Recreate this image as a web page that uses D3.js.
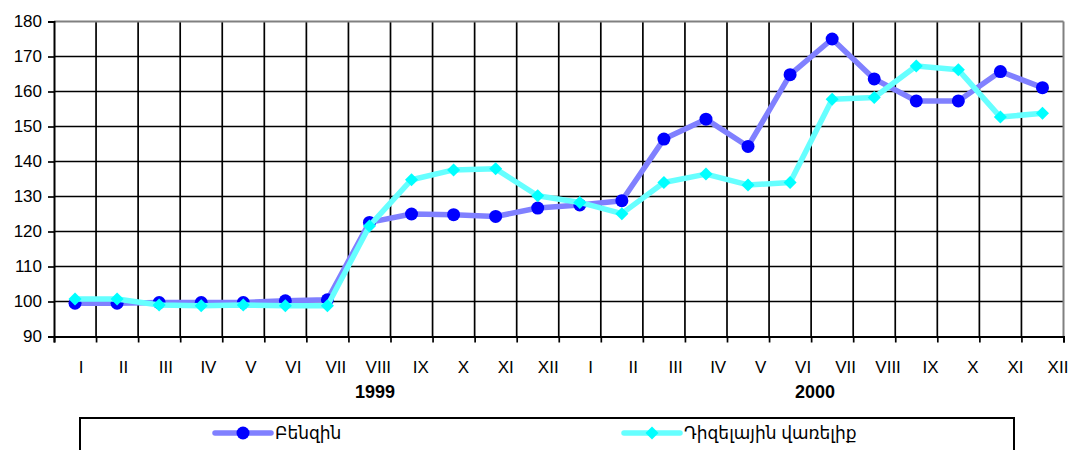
<!DOCTYPE html>
<html>
<head>
<meta charset="utf-8">
<script src="https://cdn.jsdelivr.net/npm/d3@7"></script>
<style>
  html, body { margin: 0; padding: 0; background: #fff; }
  svg { display: block; }
  text { font-family: "Liberation Sans", Arial, "DejaVu Sans", sans-serif; fill: #000; }
</style>
</head>
<body>
<svg id="chart" width="1074" height="450"></svg>
<script>
// ---- data ----
const months = ["I","II","III","IV","V","VI","VII","VIII","IX","X","XI","XII",
                "I","II","III","IV","V","VI","VII","VIII","IX","X","XI","XII"];
const years = ["1999", "2000"];
const seriesNames = ["Բենզին", "Դիզելային վառելիք"];
const benzin = [99.5, 99.5, 99.7, 99.7, 99.7, 100.2, 100.5, 122.6, 125.0, 124.8, 124.3, 126.7,
                127.6, 128.8, 146.4, 152.1, 144.3, 164.8, 175.0, 163.6, 157.3, 157.3, 165.7, 161.1];
const diesel = [100.7, 100.7, 99.0, 98.8, 99.0, 98.8, 98.8, 121.6, 134.8, 137.6, 137.9, 130.2,
                128.3, 125.1, 134.0, 136.4, 133.3, 134.0, 157.8, 158.3, 167.3, 166.2, 152.7, 153.8];
const yTicks = [90, 100, 110, 120, 130, 140, 150, 160, 170, 180];

// ---- layout ----
const svg = d3.select("#chart");
const L = 54, R = 1063.5, T = 21.5, B = 336.5;
const n = benzin.length;

const x = d3.scaleBand().domain(d3.range(n)).range([L, R]).padding(0);
const xEdge = d3.scaleLinear().domain([0, n]).range([L, R]);
const y = d3.scaleLinear().domain([90, 180]).range([B, T]);
const xLab = d3.scalePoint().domain(d3.range(months.length)).range([81, 1058]);
const xYear = d3.scalePoint().domain(years).range([375, 815]);
const cx = i => x(i) + x.bandwidth() / 2;

// gridlines
const grid = svg.append("g");
grid.selectAll("line.h").data(yTicks.filter(v => v > 90 && v < 180)).enter().append("line")
  .attr("x1", L).attr("x2", R).attr("y1", d => y(d)).attr("y2", d => y(d))
  .attr("stroke", "#000").attr("stroke-width", 1.7);
grid.selectAll("line.v").data(d3.range(1, n)).enter().append("line")
  .attr("x1", d => xEdge(d)).attr("x2", d => xEdge(d)).attr("y1", T).attr("y2", B)
  .attr("stroke", "#000").attr("stroke-width", 1.7);
// top & right border (gray)
grid.append("line").attr("x1", L).attr("x2", R).attr("y1", y(180)).attr("y2", y(180))
  .attr("stroke", "#808080").attr("stroke-width", 2);
grid.append("line").attr("x1", R).attr("x2", R).attr("y1", T).attr("y2", B)
  .attr("stroke", "#808080").attr("stroke-width", 2);

// y axis
const yAxis = svg.append("g").attr("transform", `translate(${L},0)`)
  .call(d3.axisLeft(y).tickValues(yTicks).tickSize(6).tickPadding(6).tickFormat(d3.format("d")));
yAxis.select(".domain").attr("stroke", "#000").attr("stroke-width", 2);
yAxis.selectAll(".tick line").attr("stroke", "#000").attr("stroke-width", 1.7);
yAxis.selectAll(".tick text").attr("font-size", 17).attr("font-family", "Liberation Sans, Arial, sans-serif");

// x axis (ticks at band edges)
const xAxis = svg.append("g").attr("transform", `translate(0,${B})`)
  .call(d3.axisBottom(xEdge).tickValues(d3.range(0, n + 1)).tickSize(6).tickFormat(""));
xAxis.select(".domain").attr("stroke", "#000").attr("stroke-width", 2);
xAxis.selectAll(".tick line").attr("stroke", "#000").attr("stroke-width", 1.7);

// month labels
svg.append("g").selectAll("text").data(months).enter().append("text")
  .attr("x", (d, i) => xLab(i)).attr("y", 373)
  .attr("text-anchor", "middle").attr("font-size", 17).text(d => d);
// year labels
svg.append("g").selectAll("text").data(years).enter().append("text")
  .attr("x", d => xYear(d)).attr("y", 398)
  .attr("text-anchor", "middle").attr("font-size", 18).attr("font-weight", "bold").text(d => d);

// series
const line = d3.line().x((d, i) => cx(i)).y(d => y(d));
const diamond = d3.symbol().type(d3.symbolDiamond2 || d3.symbolSquare).size(110);

svg.append("path").datum(benzin).attr("d", line)
  .attr("fill", "none").attr("stroke", "#8080FF").attr("stroke-width", 5.5).attr("stroke-linejoin", "round");
svg.append("g").selectAll("circle").data(benzin).enter().append("circle")
  .attr("cx", (d, i) => cx(i)).attr("cy", d => y(d)).attr("r", 6.5).attr("fill", "#0000FF");

svg.append("path").datum(diesel).attr("d", line)
  .attr("fill", "none").attr("stroke", "#66FFFF").attr("stroke-width", 5.5).attr("stroke-linejoin", "round");
svg.append("g").selectAll("path").data(diesel).enter().append("path")
  .attr("d", d3.symbol().type(d3.symbolSquare).size(85))
  .attr("transform", (d, i) => `translate(${cx(i)},${y(d)}) rotate(45)`)
  .attr("fill", "#00FFFF");

// legend
const lg = svg.append("g");
lg.append("rect").attr("x", 80).attr("y", 418).attr("width", 934).attr("height", 60)
  .attr("fill", "#fff").attr("stroke", "#000").attr("stroke-width", 2);
const legendItems = [
  {name: seriesNames[0], x0: 215, line: "#8080FF", mark: "circle"},
  {name: seriesNames[1], x0: 624, line: "#66FFFF", mark: "diamond"}
];
legendItems.forEach(it => {
  const g = lg.append("g");
  g.append("line").attr("x1", it.x0).attr("x2", it.x0 + 56).attr("y1", 433).attr("y2", 433)
    .attr("stroke", it.line).attr("stroke-width", 5.5).attr("stroke-linecap", "round");
  if (it.mark === "circle") {
    g.append("circle").attr("cx", it.x0 + 28).attr("cy", 433).attr("r", 6.5).attr("fill", "#0000FF");
  } else {
    g.append("path").attr("d", d3.symbol().type(d3.symbolSquare).size(85)())
      .attr("transform", `translate(${it.x0 + 28},433) rotate(45)`).attr("fill", "#00FFFF");
  }
  g.append("text").attr("x", it.x0 + 60).attr("y", 439).attr("font-size", 17)
    .attr("font-family", "DejaVu Sans, sans-serif").text(it.name);
});
</script>
</body>
</html>
